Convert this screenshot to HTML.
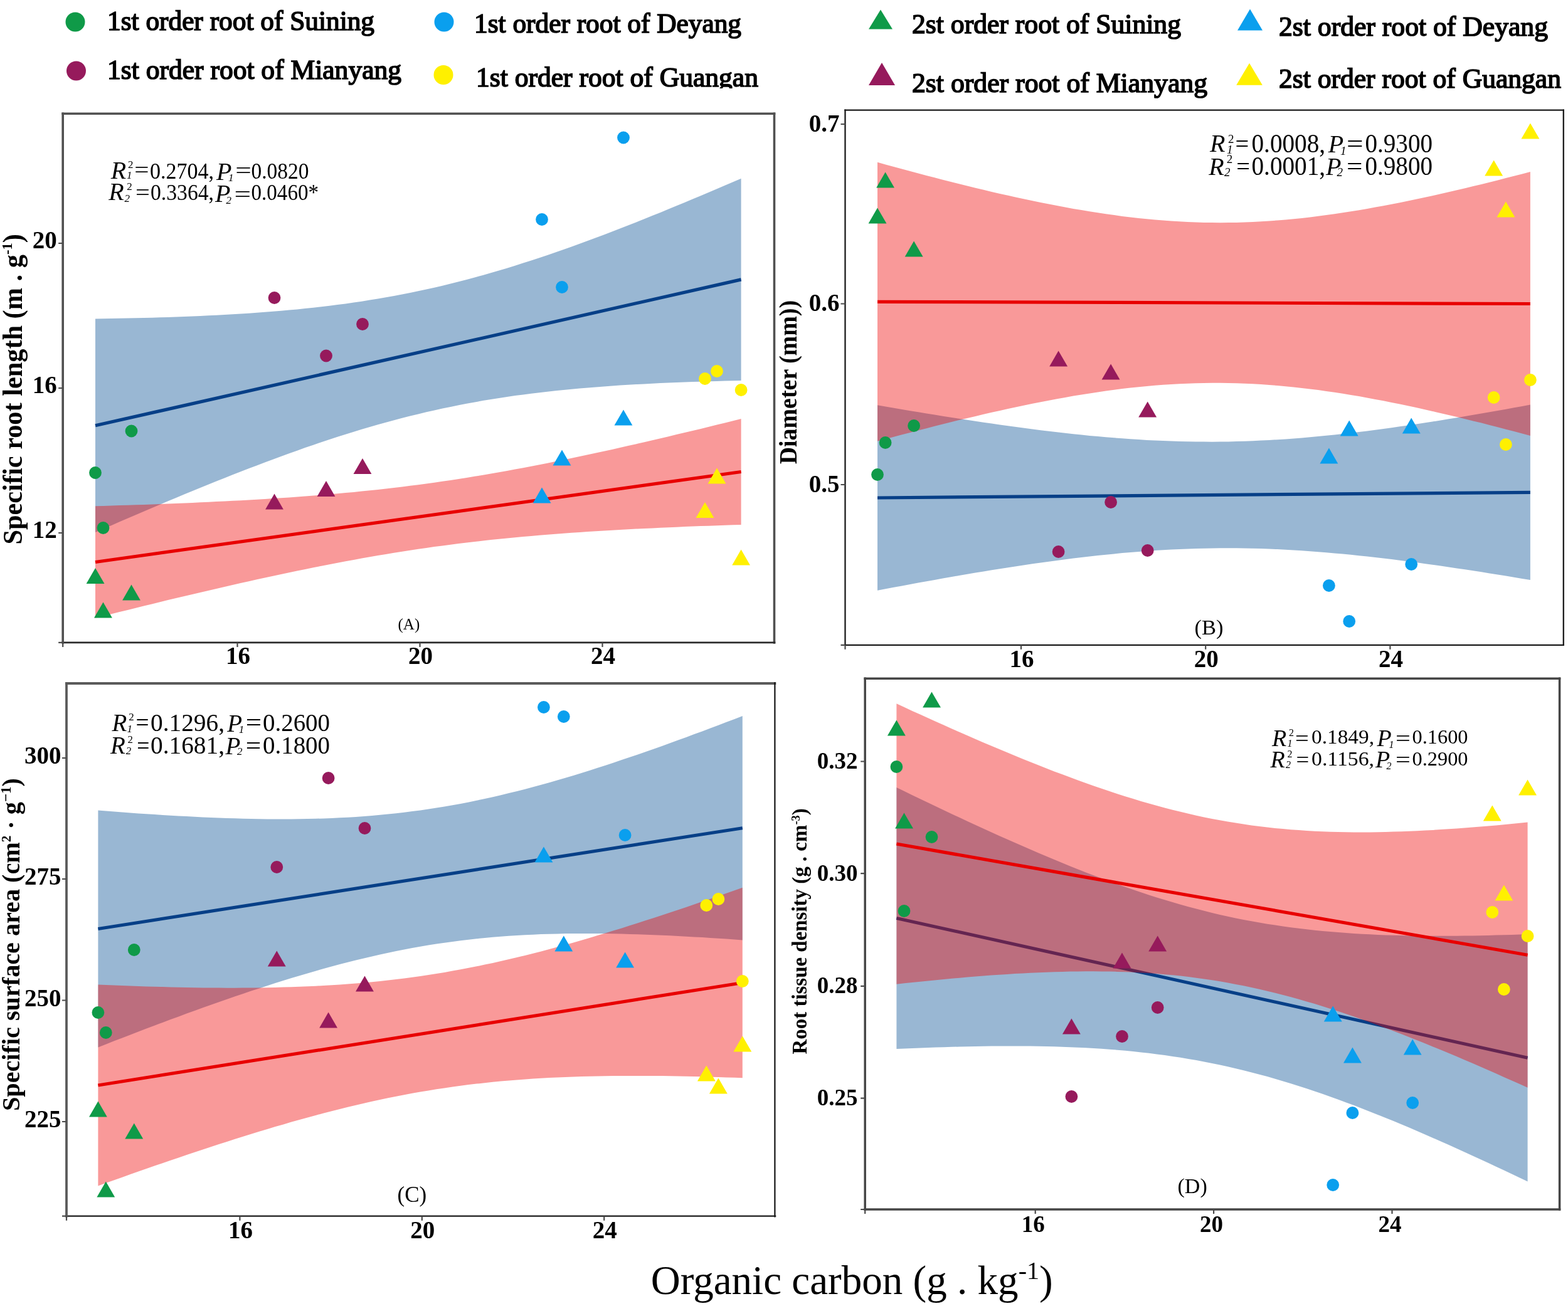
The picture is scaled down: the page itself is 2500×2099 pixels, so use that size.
<!DOCTYPE html>
<html><head><meta charset="utf-8"><title>Organic carbon vs root traits</title>
<style>
html,body{margin:0;padding:0;background:#fff;}
body{width:2500px;height:2099px;overflow:hidden;}
svg{display:block;font-family:'Liberation Serif', 'Times New Roman', serif;}
text{fill:#000;}
</style></head><body>
<svg width="2500" height="2099" viewBox="0 0 2500 2099">
<rect width="2500" height="2099" fill="#fff"/>
<defs><clipPath id="clipG"><rect x="700" y="90" width="560" height="51"/></clipPath></defs>
<circle cx="120.0" cy="35.0" r="15.5" fill="#0f9a48"/>
<text x="171.0" y="47.5" font-size="45" font-weight="normal" font-style="normal" text-anchor="start" textLength="426.0" lengthAdjust="spacingAndGlyphs" stroke="#000" stroke-width="1.7">1st order root of Suining</text>
<circle cx="708.0" cy="35.0" r="15.5" fill="#0a9fee"/>
<text x="756.0" y="52.0" font-size="45" font-weight="normal" font-style="normal" text-anchor="start" textLength="426.0" lengthAdjust="spacingAndGlyphs" stroke="#000" stroke-width="1.7">1st order root of Deyang</text>
<polygon points="1404.0,15.5 1385.0,46.5 1423.0,46.5" fill="#0f9a48"/>
<text x="1454.0" y="53.0" font-size="45" font-weight="normal" font-style="normal" text-anchor="start" textLength="429.0" lengthAdjust="spacingAndGlyphs" stroke="#000" stroke-width="1.7">2st order root of Suining</text>
<polygon points="1993.0,14.5 1973.0,48.5 2013.0,48.5" fill="#0a9fee"/>
<text x="2039.0" y="57.0" font-size="45" font-weight="normal" font-style="normal" text-anchor="start" textLength="429.0" lengthAdjust="spacingAndGlyphs" stroke="#000" stroke-width="1.7">2st order root of Deyang</text>
<circle cx="121.5" cy="113.0" r="15.5" fill="#961a5c"/>
<text x="171.0" y="126.0" font-size="45" font-weight="normal" font-style="normal" text-anchor="start" textLength="469.0" lengthAdjust="spacingAndGlyphs" stroke="#000" stroke-width="1.7">1st order root of Mianyang</text>
<circle cx="707.0" cy="119.5" r="15.5" fill="#fff000"/>
<text x="759.0" y="138.0" font-size="45" font-weight="normal" font-style="normal" text-anchor="start" textLength="450.0" lengthAdjust="spacingAndGlyphs" stroke="#000" stroke-width="1.7" clip-path="url(#clipG)">1st order root of Guangan</text>
<polygon points="1406.0,100.0 1385.0,136.0 1427.0,136.0" fill="#961a5c"/>
<text x="1454.0" y="147.0" font-size="45" font-weight="normal" font-style="normal" text-anchor="start" textLength="471.0" lengthAdjust="spacingAndGlyphs" stroke="#000" stroke-width="1.7">2st order root of Mianyang</text>
<polygon points="1992.0,100.8 1971.2,135.8 2012.8,135.8" fill="#fff000"/>
<text x="2039.0" y="140.0" font-size="45" font-weight="normal" font-style="normal" text-anchor="start" textLength="450.0" lengthAdjust="spacingAndGlyphs" stroke="#000" stroke-width="1.7">2st order root of Guangan</text>
<path d="M152.0,508.5 L164.9,508.3 L177.8,508.1 L190.6,507.8 L203.5,507.6 L216.4,507.3 L229.2,507.0 L242.1,506.7 L255.0,506.3 L267.9,505.9 L280.7,505.4 L293.6,505.0 L306.5,504.5 L319.3,503.9 L332.2,503.3 L345.1,502.7 L357.9,502.0 L370.8,501.3 L383.7,500.5 L396.5,499.7 L409.4,498.8 L422.3,497.8 L435.2,496.8 L448.0,495.7 L460.9,494.6 L473.8,493.4 L486.6,492.1 L499.5,490.7 L512.4,489.3 L525.2,487.7 L538.1,486.1 L551.0,484.4 L563.9,482.6 L576.7,480.7 L589.6,478.6 L602.5,476.5 L615.3,474.3 L628.2,472.0 L641.1,469.6 L653.9,467.0 L666.8,464.3 L679.7,461.6 L692.5,458.7 L705.4,455.7 L718.3,452.6 L731.2,449.3 L744.0,446.0 L756.9,442.5 L769.8,439.0 L782.6,435.3 L795.5,431.5 L808.4,427.7 L821.2,423.7 L834.1,419.6 L847.0,415.5 L859.9,411.2 L872.7,406.9 L885.6,402.4 L898.5,397.9 L911.3,393.4 L924.2,388.7 L937.1,384.0 L949.9,379.2 L962.8,374.4 L975.7,369.5 L988.5,364.5 L1001.4,359.5 L1014.3,354.4 L1027.2,349.3 L1040.0,344.1 L1052.9,338.9 L1065.8,333.6 L1078.6,328.3 L1091.5,323.0 L1104.4,317.6 L1117.2,312.2 L1130.1,306.8 L1143.0,301.3 L1155.8,295.8 L1168.7,290.3 L1181.6,284.7 L1181.6,607.1 L1168.7,607.3 L1155.8,607.6 L1143.0,607.9 L1130.1,608.3 L1117.2,608.7 L1104.4,609.1 L1091.5,609.5 L1078.6,610.0 L1065.8,610.6 L1052.9,611.1 L1040.0,611.7 L1027.2,612.4 L1014.3,613.1 L1001.4,613.8 L988.5,614.6 L975.7,615.5 L962.8,616.4 L949.9,617.4 L937.1,618.4 L924.2,619.5 L911.3,620.7 L898.5,621.9 L885.6,623.3 L872.7,624.7 L859.9,626.2 L847.0,627.7 L834.1,629.4 L821.2,631.1 L808.4,633.0 L795.5,634.9 L782.6,637.0 L769.8,639.1 L756.9,641.4 L744.0,643.8 L731.2,646.3 L718.3,648.9 L705.4,651.6 L692.5,654.4 L679.7,657.3 L666.8,660.4 L653.9,663.5 L641.1,666.8 L628.2,670.2 L615.3,673.7 L602.5,677.3 L589.6,681.0 L576.7,684.8 L563.9,688.7 L551.0,692.7 L538.1,696.8 L525.2,701.0 L512.4,705.3 L499.5,709.7 L486.6,714.1 L473.8,718.7 L460.9,723.3 L448.0,728.0 L435.2,732.7 L422.3,737.5 L409.4,742.4 L396.5,747.3 L383.7,752.3 L370.8,757.3 L357.9,762.4 L345.1,767.6 L332.2,772.8 L319.3,778.0 L306.5,783.3 L293.6,788.6 L280.7,793.9 L267.9,799.3 L255.0,804.7 L242.1,810.2 L229.2,815.7 L216.4,821.2 L203.5,826.7 L190.6,832.3 L177.8,837.9 L164.9,843.5 L152.0,849.1 Z" fill="#004b92" fill-opacity="0.4"/>
<line x1="152.0" y1="678.8" x2="1181.6" y2="445.9" stroke="#073f87" stroke-width="5.2"/>
<path d="M152.0,807.3 L164.9,806.9 L177.8,806.5 L190.6,806.1 L203.5,805.7 L216.4,805.3 L229.2,804.9 L242.1,804.4 L255.0,803.9 L267.9,803.5 L280.7,803.0 L293.6,802.4 L306.5,801.9 L319.3,801.3 L332.2,800.7 L345.1,800.1 L357.9,799.5 L370.8,798.8 L383.7,798.2 L396.5,797.4 L409.4,796.7 L422.3,795.9 L435.2,795.1 L448.0,794.3 L460.9,793.4 L473.8,792.5 L486.6,791.5 L499.5,790.6 L512.4,789.5 L525.2,788.4 L538.1,787.3 L551.0,786.1 L563.9,784.9 L576.7,783.6 L589.6,782.3 L602.5,780.9 L615.3,779.5 L628.2,778.0 L641.1,776.4 L653.9,774.8 L666.8,773.2 L679.7,771.4 L692.5,769.7 L705.4,767.8 L718.3,765.9 L731.2,763.9 L744.0,761.9 L756.9,759.8 L769.8,757.7 L782.6,755.5 L795.5,753.2 L808.4,750.9 L821.2,748.6 L834.1,746.2 L847.0,743.7 L859.9,741.2 L872.7,738.7 L885.6,736.1 L898.5,733.4 L911.3,730.8 L924.2,728.1 L937.1,725.3 L949.9,722.5 L962.8,719.7 L975.7,716.9 L988.5,714.0 L1001.4,711.1 L1014.3,708.2 L1027.2,705.2 L1040.0,702.2 L1052.9,699.2 L1065.8,696.2 L1078.6,693.1 L1091.5,690.1 L1104.4,687.0 L1117.2,683.9 L1130.1,680.7 L1143.0,677.6 L1155.8,674.4 L1168.7,671.3 L1181.6,668.1 L1181.6,836.9 L1168.7,837.3 L1155.8,837.8 L1143.0,838.2 L1130.1,838.7 L1117.2,839.1 L1104.4,839.6 L1091.5,840.1 L1078.6,840.7 L1065.8,841.2 L1052.9,841.8 L1040.0,842.4 L1027.2,843.0 L1014.3,843.6 L1001.4,844.3 L988.5,845.0 L975.7,845.7 L962.8,846.5 L949.9,847.3 L937.1,848.1 L924.2,848.9 L911.3,849.8 L898.5,850.8 L885.6,851.7 L872.7,852.7 L859.9,853.8 L847.0,854.9 L834.1,856.0 L821.2,857.2 L808.4,858.5 L795.5,859.8 L782.6,861.1 L769.8,862.5 L756.9,864.0 L744.0,865.5 L731.2,867.1 L718.3,868.7 L705.4,870.4 L692.5,872.1 L679.7,874.0 L666.8,875.8 L653.9,877.8 L641.1,879.8 L628.2,881.8 L615.3,883.9 L602.5,886.1 L589.6,888.3 L576.7,890.6 L563.9,892.9 L551.0,895.3 L538.1,897.7 L525.2,900.2 L512.4,902.7 L499.5,905.2 L486.6,907.9 L473.8,910.5 L460.9,913.2 L448.0,915.9 L435.2,918.7 L422.3,921.5 L409.4,924.3 L396.5,927.2 L383.7,930.0 L370.8,933.0 L357.9,935.9 L345.1,938.9 L332.2,941.9 L319.3,944.9 L306.5,947.9 L293.6,951.0 L280.7,954.0 L267.9,957.1 L255.0,960.3 L242.1,963.4 L229.2,966.5 L216.4,969.7 L203.5,972.9 L190.6,976.1 L177.8,979.3 L164.9,982.5 L152.0,985.7 Z" fill="#f00000" fill-opacity="0.4"/>
<line x1="152.0" y1="896.5" x2="1181.6" y2="752.5" stroke="#e80000" stroke-width="5.2"/>
<polygon points="152.0,906.1 137.6,931.1 166.5,931.1" fill="#0f9a48"/>
<polygon points="164.5,960.6 150.0,985.6 178.9,985.6" fill="#0f9a48"/>
<polygon points="209.5,932.5 195.1,957.5 223.9,957.5" fill="#0f9a48"/>
<polygon points="437.5,787.5 423.1,812.5 451.9,812.5" fill="#961a5c"/>
<polygon points="520.0,767.0 505.6,792.0 534.4,792.0" fill="#961a5c"/>
<polygon points="578.0,731.0 563.5,756.0 592.4,756.0" fill="#961a5c"/>
<polygon points="864.0,777.5 849.6,802.5 878.5,802.5" fill="#0a9fee"/>
<polygon points="896.0,717.5 881.5,742.5 910.4,742.5" fill="#0a9fee"/>
<polygon points="994.0,653.5 979.5,678.5 1008.4,678.5" fill="#0a9fee"/>
<polygon points="1124.0,801.0 1109.5,826.0 1138.4,826.0" fill="#fff000"/>
<polygon points="1143.0,746.5 1128.6,771.5 1157.5,771.5" fill="#fff000"/>
<polygon points="1181.6,876.5 1167.2,901.5 1196.0,901.5" fill="#fff000"/>
<circle cx="152.0" cy="754.0" r="9.9" fill="#0f9a48"/>
<circle cx="164.5" cy="842.0" r="9.9" fill="#0f9a48"/>
<circle cx="209.5" cy="687.5" r="9.9" fill="#0f9a48"/>
<circle cx="437.5" cy="475.0" r="9.9" fill="#961a5c"/>
<circle cx="520.0" cy="567.5" r="9.9" fill="#961a5c"/>
<circle cx="578.0" cy="517.0" r="9.9" fill="#961a5c"/>
<circle cx="864.0" cy="350.0" r="9.9" fill="#0a9fee"/>
<circle cx="896.0" cy="458.0" r="9.9" fill="#0a9fee"/>
<circle cx="994.0" cy="219.5" r="9.9" fill="#0a9fee"/>
<circle cx="1124.0" cy="604.0" r="9.9" fill="#fff000"/>
<circle cx="1143.0" cy="592.0" r="9.9" fill="#fff000"/>
<circle cx="1181.6" cy="622.0" r="9.9" fill="#fff000"/>
<line x1="98.4" y1="181.2" x2="1236.3" y2="181.2" stroke="#505050" stroke-width="3.6"/>
<line x1="1234.5" y1="179.4" x2="1234.5" y2="1026.7" stroke="#505050" stroke-width="3.6"/>
<line x1="98.4" y1="1024.9" x2="1236.3" y2="1024.9" stroke="#2a2a2a" stroke-width="2.6"/>
<line x1="100.2" y1="179.4" x2="100.2" y2="1026.7" stroke="#505050" stroke-width="3.6"/>
<text x="90.7" y="395.5" font-size="39" font-weight="bold" font-style="normal" text-anchor="end">20</text>
<text x="90.7" y="626.5" font-size="39" font-weight="bold" font-style="normal" text-anchor="end">16</text>
<text x="90.7" y="857.5" font-size="39" font-weight="bold" font-style="normal" text-anchor="end">12</text>
<text x="379.5" y="1059.4" font-size="39" font-weight="bold" font-style="normal" text-anchor="middle">16</text>
<text x="670.5" y="1059.4" font-size="39" font-weight="bold" font-style="normal" text-anchor="middle">20</text>
<text x="961.5" y="1059.4" font-size="39" font-weight="bold" font-style="normal" text-anchor="middle">24</text>
<path d="M93.2,388 H100.2 M93.2,619 H100.2 M93.2,850 H100.2 M93.2,1024.9 H100.2 M378.5,1024.9 V1031.9 M669.5,1024.9 V1031.9 M960.5,1024.9 V1031.9 M100.2,1024.9 V1031.9" stroke="#4a4a4a" stroke-width="2.2" fill="none"/>
<text transform="translate(34.5,868.5) rotate(-90)" x="0" y="0" font-size="45" font-weight="bold" textLength="495.3" lengthAdjust="spacingAndGlyphs">Specific root length (m . g<tspan font-size="24" dy="-15.5">-1</tspan><tspan dy="15.5">)</tspan></text>
<text x="634.5" y="1003.5" font-size="25" font-weight="normal" font-style="normal" text-anchor="start">(A)</text>
<text x="176.8" y="284.5" font-size="40" font-weight="normal" font-style="italic" text-anchor="start">R</text>
<text x="204.0" y="267.7" font-size="17" font-weight="normal" font-style="normal" text-anchor="start">2</text>
<text x="202.0" y="285.4" font-size="17" font-weight="normal" font-style="italic" text-anchor="start">1</text>
<text x="214.2" y="283.1" font-size="36" font-weight="normal" font-style="normal" text-anchor="start" textLength="23.3" lengthAdjust="spacingAndGlyphs">=</text>
<text x="239.0" y="284.5" font-size="35" font-weight="normal" font-style="normal" text-anchor="start" textLength="102.0" lengthAdjust="spacingAndGlyphs">0.2704,</text>
<text x="345.0" y="286.5" font-size="40" font-weight="normal" font-style="italic" text-anchor="start">P</text>
<text x="364.0" y="289.0" font-size="17" font-weight="normal" font-style="italic" text-anchor="start">1</text>
<text x="375.3" y="284.1" font-size="36" font-weight="normal" font-style="normal" text-anchor="start" textLength="25.6" lengthAdjust="spacingAndGlyphs">=</text>
<text x="400.5" y="284.5" font-size="35" font-weight="normal" font-style="normal" text-anchor="start" textLength="92.0" lengthAdjust="spacingAndGlyphs">0.0820</text>
<text x="173.2" y="319.4" font-size="40" font-weight="normal" font-style="italic" text-anchor="start">R</text>
<text x="202.2" y="302.6" font-size="17" font-weight="normal" font-style="normal" text-anchor="start">2</text>
<text x="198.5" y="321.7" font-size="17" font-weight="normal" font-style="italic" text-anchor="start">2</text>
<text x="216.0" y="318.8" font-size="36" font-weight="normal" font-style="normal" text-anchor="start" textLength="22.9" lengthAdjust="spacingAndGlyphs">=</text>
<text x="240.0" y="319.4" font-size="35" font-weight="normal" font-style="normal" text-anchor="start" textLength="101.0" lengthAdjust="spacingAndGlyphs">0.3364,</text>
<text x="343.0" y="321.7" font-size="40" font-weight="normal" font-style="italic" text-anchor="start">P</text>
<text x="360.5" y="325.0" font-size="17" font-weight="normal" font-style="italic" text-anchor="start">2</text>
<text x="373.4" y="321.9" font-size="36" font-weight="normal" font-style="normal" text-anchor="start" textLength="26.6" lengthAdjust="spacingAndGlyphs">=</text>
<text x="400.5" y="319.4" font-size="35" font-weight="normal" font-style="normal" text-anchor="start" textLength="107.5" lengthAdjust="spacingAndGlyphs">0.0460*</text>
<path d="M1399.0,646.3 L1412.0,648.5 L1425.1,650.8 L1438.1,653.0 L1451.1,655.2 L1464.1,657.3 L1477.1,659.5 L1490.1,661.6 L1503.1,663.7 L1516.1,665.8 L1529.1,667.8 L1542.2,669.8 L1555.2,671.8 L1568.2,673.7 L1581.2,675.6 L1594.2,677.5 L1607.2,679.3 L1620.2,681.1 L1633.2,682.8 L1646.2,684.5 L1659.3,686.2 L1672.3,687.8 L1685.3,689.3 L1698.3,690.8 L1711.3,692.2 L1724.3,693.6 L1737.3,694.9 L1750.3,696.1 L1763.3,697.3 L1776.4,698.3 L1789.4,699.3 L1802.4,700.3 L1815.4,701.1 L1828.4,701.9 L1841.4,702.6 L1854.4,703.1 L1867.4,703.6 L1880.4,704.0 L1893.5,704.3 L1906.5,704.5 L1919.5,704.6 L1932.5,704.7 L1945.5,704.6 L1958.5,704.4 L1971.5,704.1 L1984.5,703.7 L1997.5,703.2 L2010.6,702.6 L2023.6,702.0 L2036.6,701.2 L2049.6,700.4 L2062.6,699.4 L2075.6,698.4 L2088.6,697.3 L2101.6,696.1 L2114.6,694.8 L2127.7,693.5 L2140.7,692.0 L2153.7,690.6 L2166.7,689.0 L2179.7,687.4 L2192.7,685.7 L2205.7,684.0 L2218.7,682.2 L2231.7,680.3 L2244.8,678.5 L2257.8,676.5 L2270.8,674.5 L2283.8,672.5 L2296.8,670.4 L2309.8,668.3 L2322.8,666.2 L2335.8,664.0 L2348.8,661.8 L2361.9,659.6 L2374.9,657.3 L2387.9,655.0 L2400.9,652.7 L2413.9,650.3 L2426.9,647.9 L2439.9,645.5 L2439.9,925.1 L2426.9,922.9 L2413.9,920.7 L2400.9,918.6 L2387.9,916.5 L2374.9,914.4 L2361.9,912.3 L2348.8,910.3 L2335.8,908.3 L2322.8,906.4 L2309.8,904.4 L2296.8,902.6 L2283.8,900.7 L2270.8,898.9 L2257.8,897.1 L2244.8,895.4 L2231.7,893.7 L2218.7,892.1 L2205.7,890.5 L2192.7,889.0 L2179.7,887.6 L2166.7,886.2 L2153.7,884.8 L2140.7,883.6 L2127.7,882.4 L2114.6,881.2 L2101.6,880.2 L2088.6,879.2 L2075.6,878.3 L2062.6,877.5 L2049.6,876.8 L2036.6,876.1 L2023.6,875.6 L2010.6,875.1 L1997.5,874.8 L1984.5,874.5 L1971.5,874.3 L1958.5,874.3 L1945.5,874.3 L1932.5,874.4 L1919.5,874.7 L1906.5,875.0 L1893.5,875.4 L1880.4,875.9 L1867.4,876.5 L1854.4,877.3 L1841.4,878.1 L1828.4,878.9 L1815.4,879.9 L1802.4,881.0 L1789.4,882.1 L1776.4,883.4 L1763.3,884.7 L1750.3,886.0 L1737.3,887.5 L1724.3,889.0 L1711.3,890.6 L1698.3,892.2 L1685.3,893.9 L1672.3,895.7 L1659.3,897.5 L1646.2,899.3 L1633.2,901.2 L1620.2,903.2 L1607.2,905.2 L1594.2,907.2 L1581.2,909.3 L1568.2,911.4 L1555.2,913.6 L1542.2,915.8 L1529.1,918.0 L1516.1,920.3 L1503.1,922.6 L1490.1,924.9 L1477.1,927.2 L1464.1,929.6 L1451.1,932.0 L1438.1,934.4 L1425.1,936.8 L1412.0,939.3 L1399.0,941.7 Z" fill="#004b92" fill-opacity="0.4"/>
<line x1="1399.0" y1="794.0" x2="2439.9" y2="785.3" stroke="#073f87" stroke-width="5.2"/>
<path d="M1399.0,258.8 L1412.0,262.4 L1425.1,266.0 L1438.1,269.5 L1451.1,273.0 L1464.1,276.5 L1477.1,279.9 L1490.1,283.3 L1503.1,286.7 L1516.1,290.0 L1529.1,293.3 L1542.2,296.5 L1555.2,299.7 L1568.2,302.8 L1581.2,305.9 L1594.2,308.9 L1607.2,311.8 L1620.2,314.7 L1633.2,317.6 L1646.2,320.3 L1659.3,323.0 L1672.3,325.6 L1685.3,328.1 L1698.3,330.5 L1711.3,332.9 L1724.3,335.1 L1737.3,337.3 L1750.3,339.3 L1763.3,341.3 L1776.4,343.1 L1789.4,344.9 L1802.4,346.5 L1815.4,347.9 L1828.4,349.3 L1841.4,350.5 L1854.4,351.6 L1867.4,352.5 L1880.4,353.3 L1893.5,354.0 L1906.5,354.5 L1919.5,354.9 L1932.5,355.1 L1945.5,355.2 L1958.5,355.1 L1971.5,354.9 L1984.5,354.5 L1997.5,354.0 L2010.6,353.3 L2023.6,352.5 L2036.6,351.5 L2049.6,350.4 L2062.6,349.2 L2075.6,347.9 L2088.6,346.4 L2101.6,344.8 L2114.6,343.1 L2127.7,341.3 L2140.7,339.3 L2153.7,337.3 L2166.7,335.2 L2179.7,332.9 L2192.7,330.6 L2205.7,328.2 L2218.7,325.7 L2231.7,323.2 L2244.8,320.5 L2257.8,317.8 L2270.8,315.0 L2283.8,312.2 L2296.8,309.3 L2309.8,306.3 L2322.8,303.3 L2335.8,300.2 L2348.8,297.1 L2361.9,293.9 L2374.9,290.7 L2387.9,287.4 L2400.9,284.1 L2413.9,280.8 L2426.9,277.4 L2439.9,274.0 L2439.9,695.0 L2426.9,691.5 L2413.9,688.1 L2400.9,684.7 L2387.9,681.3 L2374.9,677.9 L2361.9,674.6 L2348.8,671.4 L2335.8,668.2 L2322.8,665.0 L2309.8,661.9 L2296.8,658.9 L2283.8,655.9 L2270.8,652.9 L2257.8,650.1 L2244.8,647.3 L2231.7,644.6 L2218.7,641.9 L2205.7,639.3 L2192.7,636.9 L2179.7,634.5 L2166.7,632.1 L2153.7,629.9 L2140.7,627.8 L2127.7,625.8 L2114.6,623.9 L2101.6,622.1 L2088.6,620.4 L2075.6,618.9 L2062.6,617.5 L2049.6,616.2 L2036.6,615.0 L2023.6,614.0 L2010.6,613.1 L1997.5,612.3 L1984.5,611.7 L1971.5,611.3 L1958.5,611.0 L1945.5,610.8 L1932.5,610.8 L1919.5,610.9 L1906.5,611.2 L1893.5,611.7 L1880.4,612.2 L1867.4,613.0 L1854.4,613.8 L1841.4,614.8 L1828.4,616.0 L1815.4,617.2 L1802.4,618.6 L1789.4,620.1 L1776.4,621.8 L1763.3,623.5 L1750.3,625.4 L1737.3,627.4 L1724.3,629.5 L1711.3,631.6 L1698.3,633.9 L1685.3,636.3 L1672.3,638.7 L1659.3,641.2 L1646.2,643.8 L1633.2,646.5 L1620.2,649.2 L1607.2,652.0 L1594.2,654.9 L1581.2,657.8 L1568.2,660.8 L1555.2,663.9 L1542.2,667.0 L1529.1,670.1 L1516.1,673.3 L1503.1,676.6 L1490.1,679.8 L1477.1,683.2 L1464.1,686.5 L1451.1,689.9 L1438.1,693.3 L1425.1,696.8 L1412.0,700.3 L1399.0,703.8 Z" fill="#f00000" fill-opacity="0.4"/>
<line x1="1399.0" y1="481.3" x2="2439.9" y2="484.5" stroke="#e80000" stroke-width="5.2"/>
<polygon points="1399.0,331.5 1384.6,356.5 1413.5,356.5" fill="#0f9a48"/>
<polygon points="1411.6,274.5 1397.2,299.5 1426.0,299.5" fill="#0f9a48"/>
<polygon points="1457.1,384.5 1442.7,409.5 1471.6,409.5" fill="#0f9a48"/>
<polygon points="1687.6,559.5 1673.2,584.5 1702.1,584.5" fill="#961a5c"/>
<polygon points="1771.1,580.5 1756.6,605.5 1785.5,605.5" fill="#961a5c"/>
<polygon points="1829.7,640.5 1815.2,665.5 1844.1,665.5" fill="#961a5c"/>
<polygon points="2118.9,714.5 2104.4,739.5 2133.3,739.5" fill="#0a9fee"/>
<polygon points="2151.2,670.5 2136.7,695.5 2165.6,695.5" fill="#0a9fee"/>
<polygon points="2250.2,666.5 2235.8,691.5 2264.7,691.5" fill="#0a9fee"/>
<polygon points="2381.7,255.5 2367.2,280.5 2396.1,280.5" fill="#fff000"/>
<polygon points="2400.9,321.5 2386.5,346.5 2415.4,346.5" fill="#fff000"/>
<polygon points="2439.9,196.5 2425.5,221.5 2454.4,221.5" fill="#fff000"/>
<circle cx="1399.0" cy="757.0" r="9.9" fill="#0f9a48"/>
<circle cx="1411.6" cy="706.0" r="9.9" fill="#0f9a48"/>
<circle cx="1457.1" cy="679.0" r="9.9" fill="#0f9a48"/>
<circle cx="1687.6" cy="880.0" r="9.9" fill="#961a5c"/>
<circle cx="1771.1" cy="801.0" r="9.9" fill="#961a5c"/>
<circle cx="1829.7" cy="878.0" r="9.9" fill="#961a5c"/>
<circle cx="2118.9" cy="934.0" r="9.9" fill="#0a9fee"/>
<circle cx="2151.2" cy="991.0" r="9.9" fill="#0a9fee"/>
<circle cx="2250.2" cy="900.0" r="9.9" fill="#0a9fee"/>
<circle cx="2381.7" cy="634.0" r="9.9" fill="#fff000"/>
<circle cx="2400.9" cy="709.0" r="9.9" fill="#fff000"/>
<circle cx="2439.9" cy="606.0" r="9.9" fill="#fff000"/>
<line x1="1346.3" y1="175.6" x2="2494.0" y2="175.6" stroke="#1a1a1a" stroke-width="2.3"/>
<line x1="2492.8" y1="174.4" x2="2492.8" y2="1030.0" stroke="#1a1a1a" stroke-width="2.3"/>
<line x1="1346.3" y1="1028.8" x2="2494.0" y2="1028.8" stroke="#1a1a1a" stroke-width="2.3"/>
<line x1="1347.5" y1="174.4" x2="1347.5" y2="1030.0" stroke="#1a1a1a" stroke-width="2.3"/>
<text x="1338.5" y="209.7" font-size="39" font-weight="bold" font-style="normal" text-anchor="end">0.7</text>
<text x="1338.5" y="496.2" font-size="39" font-weight="bold" font-style="normal" text-anchor="end">0.6</text>
<text x="1338.5" y="784.7" font-size="39" font-weight="bold" font-style="normal" text-anchor="end">0.5</text>
<text x="1629.0" y="1063.8" font-size="39" font-weight="bold" font-style="normal" text-anchor="middle">16</text>
<text x="1923.2" y="1063.8" font-size="39" font-weight="bold" font-style="normal" text-anchor="middle">20</text>
<text x="2217.4" y="1063.8" font-size="39" font-weight="bold" font-style="normal" text-anchor="middle">24</text>
<path d="M1340.5,198 H1347.5 M1340.5,484.5 H1347.5 M1340.5,773 H1347.5 M1340.5,1028.8 H1347.5 M1628.0,1028.8 V1035.8 M1922.2,1028.8 V1035.8 M2216.4,1028.8 V1035.8 M1347.5,1028.8 V1035.8" stroke="#4a4a4a" stroke-width="2.2" fill="none"/>
<text transform="translate(1270,740.3) rotate(-90)" x="0" y="0" font-size="40" font-weight="bold" textLength="261.3" lengthAdjust="spacingAndGlyphs">Diameter (mm))</text>
<text x="1904.5" y="1012.3" font-size="34.5" font-weight="normal" font-style="normal" text-anchor="start">(B)</text>
<text x="1929.1" y="242.4" font-size="40" font-weight="normal" font-style="italic" text-anchor="start">R</text>
<text x="1958.0" y="227.5" font-size="19" font-weight="normal" font-style="normal" text-anchor="start">2</text>
<text x="1956.0" y="244.5" font-size="19" font-weight="normal" font-style="italic" text-anchor="start">1</text>
<text x="1969.4" y="242.9" font-size="40" font-weight="normal" font-style="normal" text-anchor="start" textLength="21.7" lengthAdjust="spacingAndGlyphs">=</text>
<text x="1995.5" y="242.5" font-size="42" font-weight="normal" font-style="normal" text-anchor="start" textLength="117.5" lengthAdjust="spacingAndGlyphs">0.0008,</text>
<text x="2117.7" y="243.4" font-size="40" font-weight="normal" font-style="italic" text-anchor="start">P</text>
<text x="2137.0" y="247.0" font-size="19" font-weight="normal" font-style="italic" text-anchor="start">1</text>
<text x="2146.9" y="242.9" font-size="40" font-weight="normal" font-style="normal" text-anchor="start" textLength="26.6" lengthAdjust="spacingAndGlyphs">=</text>
<text x="2176.5" y="242.5" font-size="42" font-weight="normal" font-style="normal" text-anchor="start" textLength="107.5" lengthAdjust="spacingAndGlyphs">0.9300</text>
<text x="1927.3" y="278.5" font-size="40" font-weight="normal" font-style="italic" text-anchor="start">R</text>
<text x="1955.7" y="259.9" font-size="19" font-weight="normal" font-style="normal" text-anchor="start">2</text>
<text x="1952.0" y="280.8" font-size="19" font-weight="normal" font-style="italic" text-anchor="start">2</text>
<text x="1971.2" y="278.6" font-size="40" font-weight="normal" font-style="normal" text-anchor="start" textLength="21.7" lengthAdjust="spacingAndGlyphs">=</text>
<text x="1995.5" y="278.7" font-size="42" font-weight="normal" font-style="normal" text-anchor="start" textLength="117.5" lengthAdjust="spacingAndGlyphs">0.0001,</text>
<text x="2114.0" y="278.7" font-size="40" font-weight="normal" font-style="italic" text-anchor="start">P</text>
<text x="2131.5" y="281.0" font-size="19" font-weight="normal" font-style="italic" text-anchor="start">2</text>
<text x="2147.1" y="278.6" font-size="40" font-weight="normal" font-style="normal" text-anchor="start" textLength="25.4" lengthAdjust="spacingAndGlyphs">=</text>
<text x="2176.5" y="278.7" font-size="42" font-weight="normal" font-style="normal" text-anchor="start" textLength="107.5" lengthAdjust="spacingAndGlyphs">0.9800</text>
<path d="M156.4,1292.6 L169.2,1293.6 L182.1,1294.6 L194.9,1295.6 L207.8,1296.5 L220.6,1297.4 L233.5,1298.3 L246.3,1299.1 L259.1,1299.9 L272.0,1300.7 L284.8,1301.4 L297.7,1302.1 L310.5,1302.8 L323.4,1303.4 L336.2,1304.0 L349.0,1304.5 L361.9,1304.9 L374.7,1305.3 L387.6,1305.7 L400.4,1306.0 L413.3,1306.2 L426.1,1306.4 L438.9,1306.5 L451.8,1306.5 L464.6,1306.5 L477.5,1306.3 L490.3,1306.1 L503.2,1305.8 L516.0,1305.4 L528.8,1304.9 L541.7,1304.3 L554.5,1303.7 L567.4,1302.9 L580.2,1302.0 L593.1,1301.0 L605.9,1299.8 L618.7,1298.6 L631.6,1297.2 L644.4,1295.8 L657.3,1294.1 L670.1,1292.4 L683.0,1290.6 L695.8,1288.6 L708.6,1286.5 L721.5,1284.2 L734.3,1281.9 L747.2,1279.4 L760.0,1276.8 L772.9,1274.0 L785.7,1271.2 L798.5,1268.2 L811.4,1265.1 L824.2,1261.9 L837.1,1258.7 L849.9,1255.3 L862.8,1251.8 L875.6,1248.2 L888.4,1244.5 L901.3,1240.7 L914.1,1236.9 L927.0,1232.9 L939.8,1228.9 L952.7,1224.8 L965.5,1220.7 L978.3,1216.4 L991.2,1212.1 L1004.0,1207.8 L1016.9,1203.4 L1029.7,1198.9 L1042.6,1194.4 L1055.4,1189.9 L1068.2,1185.2 L1081.1,1180.6 L1093.9,1175.9 L1106.8,1171.1 L1119.6,1166.4 L1132.5,1161.6 L1145.3,1156.7 L1158.1,1151.8 L1171.0,1146.9 L1183.8,1142.0 L1183.8,1499.4 L1171.0,1498.5 L1158.1,1497.6 L1145.3,1496.8 L1132.5,1495.9 L1119.6,1495.1 L1106.8,1494.4 L1093.9,1493.7 L1081.1,1493.0 L1068.2,1492.3 L1055.4,1491.7 L1042.6,1491.2 L1029.7,1490.7 L1016.9,1490.3 L1004.0,1489.9 L991.2,1489.6 L978.3,1489.3 L965.5,1489.1 L952.7,1488.9 L939.8,1488.9 L927.0,1488.9 L914.1,1489.0 L901.3,1489.1 L888.4,1489.4 L875.6,1489.7 L862.8,1490.1 L849.9,1490.7 L837.1,1491.3 L824.2,1492.0 L811.4,1492.8 L798.5,1493.8 L785.7,1494.8 L772.9,1496.0 L760.0,1497.3 L747.2,1498.7 L734.3,1500.2 L721.5,1501.9 L708.6,1503.7 L695.8,1505.6 L683.0,1507.6 L670.1,1509.8 L657.3,1512.1 L644.4,1514.5 L631.6,1517.0 L618.7,1519.7 L605.9,1522.5 L593.1,1525.4 L580.2,1528.4 L567.4,1531.5 L554.5,1534.7 L541.7,1538.1 L528.8,1541.5 L516.0,1545.0 L503.2,1548.7 L490.3,1552.4 L477.5,1556.2 L464.6,1560.1 L451.8,1564.0 L438.9,1568.1 L426.1,1572.2 L413.3,1576.4 L400.4,1580.6 L387.6,1584.9 L374.7,1589.3 L361.9,1593.7 L349.0,1598.2 L336.2,1602.8 L323.4,1607.3 L310.5,1612.0 L297.7,1616.6 L284.8,1621.4 L272.0,1626.1 L259.1,1630.9 L246.3,1635.7 L233.5,1640.6 L220.6,1645.5 L207.8,1650.4 L194.9,1655.4 L182.1,1660.3 L169.2,1665.4 L156.4,1670.4 Z" fill="#004b92" fill-opacity="0.4"/>
<line x1="156.4" y1="1481.5" x2="1183.8" y2="1320.7" stroke="#073f87" stroke-width="5.2"/>
<path d="M156.4,1570.6 L169.2,1571.1 L182.1,1571.6 L194.9,1572.1 L207.8,1572.5 L220.6,1573.0 L233.5,1573.4 L246.3,1573.8 L259.1,1574.1 L272.0,1574.4 L284.8,1574.7 L297.7,1575.0 L310.5,1575.2 L323.4,1575.4 L336.2,1575.5 L349.0,1575.6 L361.9,1575.7 L374.7,1575.7 L387.6,1575.6 L400.4,1575.5 L413.3,1575.4 L426.1,1575.2 L438.9,1575.0 L451.8,1574.6 L464.6,1574.3 L477.5,1573.8 L490.3,1573.3 L503.2,1572.7 L516.0,1572.0 L528.8,1571.3 L541.7,1570.4 L554.5,1569.5 L567.4,1568.5 L580.2,1567.4 L593.1,1566.2 L605.9,1564.9 L618.7,1563.5 L631.6,1562.0 L644.4,1560.5 L657.3,1558.8 L670.1,1556.9 L683.0,1555.0 L695.8,1553.0 L708.6,1550.9 L721.5,1548.6 L734.3,1546.3 L747.2,1543.8 L760.0,1541.3 L772.9,1538.6 L785.7,1535.9 L798.5,1533.0 L811.4,1530.1 L824.2,1527.0 L837.1,1523.9 L849.9,1520.7 L862.8,1517.4 L875.6,1514.0 L888.4,1510.5 L901.3,1507.0 L914.1,1503.4 L927.0,1499.7 L939.8,1495.9 L952.7,1492.1 L965.5,1488.3 L978.3,1484.3 L991.2,1480.4 L1004.0,1476.3 L1016.9,1472.2 L1029.7,1468.1 L1042.6,1464.0 L1055.4,1459.7 L1068.2,1455.5 L1081.1,1451.2 L1093.9,1446.9 L1106.8,1442.5 L1119.6,1438.1 L1132.5,1433.7 L1145.3,1429.2 L1158.1,1424.8 L1171.0,1420.2 L1183.8,1415.7 L1183.8,1719.3 L1171.0,1718.8 L1158.1,1718.4 L1145.3,1718.0 L1132.5,1717.7 L1119.6,1717.3 L1106.8,1717.0 L1093.9,1716.7 L1081.1,1716.5 L1068.2,1716.3 L1055.4,1716.1 L1042.6,1716.0 L1029.7,1715.9 L1016.9,1715.9 L1004.0,1715.9 L991.2,1716.0 L978.3,1716.1 L965.5,1716.2 L952.7,1716.4 L939.8,1716.7 L927.0,1717.1 L914.1,1717.5 L901.3,1717.9 L888.4,1718.5 L875.6,1719.1 L862.8,1719.8 L849.9,1720.6 L837.1,1721.5 L824.2,1722.4 L811.4,1723.5 L798.5,1724.6 L785.7,1725.8 L772.9,1727.2 L760.0,1728.6 L747.2,1730.1 L734.3,1731.8 L721.5,1733.5 L708.6,1735.4 L695.8,1737.3 L683.0,1739.4 L670.1,1741.6 L657.3,1743.8 L644.4,1746.2 L631.6,1748.7 L618.7,1751.3 L605.9,1754.0 L593.1,1756.8 L580.2,1759.7 L567.4,1762.7 L554.5,1765.8 L541.7,1768.9 L528.8,1772.2 L516.0,1775.5 L503.2,1778.9 L490.3,1782.4 L477.5,1786.0 L464.6,1789.6 L451.8,1793.4 L438.9,1797.1 L426.1,1801.0 L413.3,1804.8 L400.4,1808.8 L387.6,1812.8 L374.7,1816.8 L361.9,1820.9 L349.0,1825.1 L336.2,1829.3 L323.4,1833.5 L310.5,1837.8 L297.7,1842.1 L284.8,1846.4 L272.0,1850.8 L259.1,1855.2 L246.3,1859.6 L233.5,1864.1 L220.6,1868.6 L207.8,1873.1 L194.9,1877.7 L182.1,1882.2 L169.2,1886.8 L156.4,1891.4 Z" fill="#f00000" fill-opacity="0.4"/>
<line x1="156.4" y1="1731.0" x2="1183.8" y2="1567.5" stroke="#e80000" stroke-width="5.2"/>
<polygon points="156.4,1756.5 142.0,1781.5 170.8,1781.5" fill="#0f9a48"/>
<polygon points="168.8,1884.5 154.4,1909.5 183.2,1909.5" fill="#0f9a48"/>
<polygon points="213.8,1791.5 199.3,1816.5 228.2,1816.5" fill="#0f9a48"/>
<polygon points="441.3,1516.5 426.8,1541.5 455.7,1541.5" fill="#961a5c"/>
<polygon points="523.6,1614.5 509.2,1639.5 538.0,1639.5" fill="#961a5c"/>
<polygon points="581.5,1556.5 567.0,1581.5 595.9,1581.5" fill="#961a5c"/>
<polygon points="866.9,1350.5 852.5,1375.5 881.4,1375.5" fill="#0a9fee"/>
<polygon points="898.8,1492.5 884.4,1517.5 913.2,1517.5" fill="#0a9fee"/>
<polygon points="996.6,1518.5 982.2,1543.5 1011.0,1543.5" fill="#0a9fee"/>
<polygon points="1126.3,1699.5 1111.9,1724.5 1140.8,1724.5" fill="#fff000"/>
<polygon points="1145.4,1719.5 1130.9,1744.5 1159.8,1744.5" fill="#fff000"/>
<polygon points="1183.8,1652.5 1169.4,1677.5 1198.3,1677.5" fill="#fff000"/>
<circle cx="156.4" cy="1615.0" r="9.9" fill="#0f9a48"/>
<circle cx="168.8" cy="1647.0" r="9.9" fill="#0f9a48"/>
<circle cx="213.8" cy="1515.0" r="9.9" fill="#0f9a48"/>
<circle cx="441.3" cy="1383.0" r="9.9" fill="#961a5c"/>
<circle cx="523.6" cy="1241.0" r="9.9" fill="#961a5c"/>
<circle cx="581.5" cy="1321.0" r="9.9" fill="#961a5c"/>
<circle cx="866.9" cy="1128.0" r="9.9" fill="#0a9fee"/>
<circle cx="898.8" cy="1143.0" r="9.9" fill="#0a9fee"/>
<circle cx="996.6" cy="1332.0" r="9.9" fill="#0a9fee"/>
<circle cx="1126.3" cy="1444.0" r="9.9" fill="#fff000"/>
<circle cx="1145.4" cy="1434.0" r="9.9" fill="#fff000"/>
<circle cx="1183.8" cy="1565.0" r="9.9" fill="#fff000"/>
<line x1="104.1" y1="1090.0" x2="1237.3" y2="1090.0" stroke="#5a5a5a" stroke-width="3.8"/>
<line x1="1235.4" y1="1088.1" x2="1235.4" y2="1941.6" stroke="#151515" stroke-width="2.2"/>
<line x1="104.1" y1="1939.7" x2="1237.3" y2="1939.7" stroke="#1a1a1a" stroke-width="2.2"/>
<line x1="106.0" y1="1088.1" x2="106.0" y2="1941.6" stroke="#5a5a5a" stroke-width="3.8"/>
<text x="97.4" y="1218.0" font-size="39" font-weight="bold" font-style="normal" text-anchor="end">300</text>
<text x="97.4" y="1411.0" font-size="39" font-weight="bold" font-style="normal" text-anchor="end">275</text>
<text x="97.4" y="1604.5" font-size="39" font-weight="bold" font-style="normal" text-anchor="end">250</text>
<text x="97.4" y="1798.0" font-size="39" font-weight="bold" font-style="normal" text-anchor="end">225</text>
<text x="383.4" y="1974.7" font-size="39" font-weight="bold" font-style="normal" text-anchor="middle">16</text>
<text x="673.8" y="1974.7" font-size="39" font-weight="bold" font-style="normal" text-anchor="middle">20</text>
<text x="964.2" y="1974.7" font-size="39" font-weight="bold" font-style="normal" text-anchor="middle">24</text>
<path d="M99,1209 H106 M99,1402 H106 M99,1595.5 H106 M99,1789 H106 M99,1939.7 H106 M382.4,1939.7 V1946.7 M672.8,1939.7 V1946.7 M963.2,1939.7 V1946.7 M106,1939.7 V1946.7" stroke="#4a4a4a" stroke-width="2.2" fill="none"/>
<text transform="translate(30.6,1772) rotate(-90)" x="0" y="0" font-size="40" font-weight="bold" textLength="531.0" lengthAdjust="spacingAndGlyphs">Specific surface area (cm<tspan font-size="21" dy="-13.6">2</tspan><tspan dy="13.6"> · g<tspan font-size="23" dy="-13.6">−1</tspan><tspan dy="13.6">)</tspan></tspan></text>
<text x="633.5" y="1916.8" font-size="35" font-weight="normal" font-style="normal" text-anchor="start">(C)</text>
<text x="178.6" y="1165.7" font-size="39" font-weight="normal" font-style="italic" text-anchor="start">R</text>
<text x="205.2" y="1148.5" font-size="17" font-weight="normal" font-style="normal" text-anchor="start">2</text>
<text x="202.5" y="1168.4" font-size="17" font-weight="normal" font-style="italic" text-anchor="start">1</text>
<text x="216.5" y="1165.9" font-size="39" font-weight="normal" font-style="normal" text-anchor="start" textLength="21.1" lengthAdjust="spacingAndGlyphs">=</text>
<text x="240.0" y="1165.7" font-size="41" font-weight="normal" font-style="normal" text-anchor="start" textLength="118.0" lengthAdjust="spacingAndGlyphs">0.1296,</text>
<text x="362.2" y="1166.5" font-size="39" font-weight="normal" font-style="italic" text-anchor="start">P</text>
<text x="380.8" y="1169.0" font-size="17" font-weight="normal" font-style="italic" text-anchor="start">1</text>
<text x="391.8" y="1165.9" font-size="39" font-weight="normal" font-style="normal" text-anchor="start" textLength="25.4" lengthAdjust="spacingAndGlyphs">=</text>
<text x="419.0" y="1165.7" font-size="41" font-weight="normal" font-style="normal" text-anchor="start" textLength="107.0" lengthAdjust="spacingAndGlyphs">0.2600</text>
<text x="175.9" y="1201.9" font-size="39" font-weight="normal" font-style="italic" text-anchor="start">R</text>
<text x="203.4" y="1184.7" font-size="17" font-weight="normal" font-style="normal" text-anchor="start">2</text>
<text x="200.7" y="1202.8" font-size="17" font-weight="normal" font-style="italic" text-anchor="start">2</text>
<text x="218.2" y="1202.6" font-size="39" font-weight="normal" font-style="normal" text-anchor="start" textLength="20.2" lengthAdjust="spacingAndGlyphs">=</text>
<text x="240.0" y="1201.9" font-size="41" font-weight="normal" font-style="normal" text-anchor="start" textLength="118.0" lengthAdjust="spacingAndGlyphs">0.1681,</text>
<text x="359.5" y="1202.5" font-size="39" font-weight="normal" font-style="italic" text-anchor="start">P</text>
<text x="378.0" y="1204.0" font-size="17" font-weight="normal" font-style="italic" text-anchor="start">2</text>
<text x="391.8" y="1202.6" font-size="39" font-weight="normal" font-style="normal" text-anchor="start" textLength="24.5" lengthAdjust="spacingAndGlyphs">=</text>
<text x="419.0" y="1201.9" font-size="41" font-weight="normal" font-style="normal" text-anchor="start" textLength="107.0" lengthAdjust="spacingAndGlyphs">0.1800</text>
<path d="M1429.4,1256.0 L1441.9,1262.1 L1454.5,1268.2 L1467.1,1274.3 L1479.7,1280.3 L1492.3,1286.3 L1504.8,1292.3 L1517.4,1298.2 L1530.0,1304.1 L1542.6,1309.9 L1555.1,1315.8 L1567.7,1321.5 L1580.3,1327.3 L1592.9,1332.9 L1605.5,1338.6 L1618.0,1344.1 L1630.6,1349.6 L1643.2,1355.1 L1655.8,1360.5 L1668.3,1365.8 L1680.9,1371.1 L1693.5,1376.3 L1706.1,1381.4 L1718.7,1386.4 L1731.2,1391.4 L1743.8,1396.2 L1756.4,1401.0 L1769.0,1405.6 L1781.5,1410.2 L1794.1,1414.7 L1806.7,1419.0 L1819.3,1423.3 L1831.8,1427.4 L1844.4,1431.4 L1857.0,1435.3 L1869.6,1439.1 L1882.2,1442.7 L1894.7,1446.2 L1907.3,1449.6 L1919.9,1452.8 L1932.5,1455.9 L1945.0,1458.9 L1957.6,1461.7 L1970.2,1464.4 L1982.8,1466.9 L1995.4,1469.3 L2007.9,1471.5 L2020.5,1473.7 L2033.1,1475.6 L2045.7,1477.5 L2058.2,1479.2 L2070.8,1480.8 L2083.4,1482.3 L2096.0,1483.7 L2108.6,1485.0 L2121.1,1486.1 L2133.7,1487.1 L2146.3,1488.1 L2158.9,1488.9 L2171.4,1489.7 L2184.0,1490.3 L2196.6,1490.9 L2209.2,1491.4 L2221.8,1491.8 L2234.3,1492.1 L2246.9,1492.4 L2259.5,1492.6 L2272.1,1492.7 L2284.6,1492.8 L2297.2,1492.8 L2309.8,1492.8 L2322.4,1492.7 L2335.0,1492.6 L2347.5,1492.4 L2360.1,1492.2 L2372.7,1491.9 L2385.3,1491.6 L2397.8,1491.3 L2410.4,1490.9 L2423.0,1490.4 L2435.6,1490.0 L2435.6,1884.6 L2423.0,1878.6 L2410.4,1872.6 L2397.8,1866.6 L2385.3,1860.7 L2372.7,1854.8 L2360.1,1849.0 L2347.5,1843.2 L2335.0,1837.5 L2322.4,1831.7 L2309.8,1826.1 L2297.2,1820.5 L2284.6,1814.9 L2272.1,1809.4 L2259.5,1804.0 L2246.9,1798.6 L2234.3,1793.3 L2221.8,1788.1 L2209.2,1783.0 L2196.6,1777.9 L2184.0,1772.9 L2171.4,1768.0 L2158.9,1763.1 L2146.3,1758.4 L2133.7,1753.8 L2121.1,1749.3 L2108.6,1744.8 L2096.0,1740.5 L2083.4,1736.3 L2070.8,1732.2 L2058.2,1728.3 L2045.7,1724.4 L2033.1,1720.7 L2020.5,1717.1 L2007.9,1713.7 L1995.4,1710.4 L1982.8,1707.2 L1970.2,1704.2 L1957.6,1701.3 L1945.0,1698.5 L1932.5,1695.9 L1919.9,1693.4 L1907.3,1691.1 L1894.7,1688.9 L1882.2,1686.8 L1869.6,1684.9 L1857.0,1683.1 L1844.4,1681.4 L1831.8,1679.8 L1819.3,1678.4 L1806.7,1677.1 L1794.1,1675.8 L1781.5,1674.7 L1769.0,1673.7 L1756.4,1672.8 L1743.8,1672.0 L1731.2,1671.3 L1718.7,1670.7 L1706.1,1670.2 L1693.5,1669.7 L1680.9,1669.3 L1668.3,1669.0 L1655.8,1668.8 L1643.2,1668.6 L1630.6,1668.5 L1618.0,1668.4 L1605.5,1668.4 L1592.9,1668.5 L1580.3,1668.6 L1567.7,1668.7 L1555.1,1668.9 L1542.6,1669.2 L1530.0,1669.5 L1517.4,1669.8 L1504.8,1670.2 L1492.3,1670.6 L1479.7,1671.0 L1467.1,1671.5 L1454.5,1671.9 L1441.9,1672.5 L1429.4,1673.0 Z" fill="#004b92" fill-opacity="0.4"/>
<line x1="1429.4" y1="1464.5" x2="2435.6" y2="1687.3" stroke="#073f87" stroke-width="5.2"/>
<path d="M1429.4,1122.3 L1441.9,1128.1 L1454.5,1133.9 L1467.1,1139.6 L1479.7,1145.3 L1492.3,1151.0 L1504.8,1156.6 L1517.4,1162.2 L1530.0,1167.8 L1542.6,1173.3 L1555.1,1178.7 L1567.7,1184.2 L1580.3,1189.5 L1592.9,1194.8 L1605.5,1200.1 L1618.0,1205.3 L1630.6,1210.4 L1643.2,1215.5 L1655.8,1220.5 L1668.3,1225.5 L1680.9,1230.4 L1693.5,1235.1 L1706.1,1239.8 L1718.7,1244.5 L1731.2,1249.0 L1743.8,1253.4 L1756.4,1257.8 L1769.0,1262.0 L1781.5,1266.2 L1794.1,1270.2 L1806.7,1274.1 L1819.3,1277.9 L1831.8,1281.5 L1844.4,1285.1 L1857.0,1288.5 L1869.6,1291.7 L1882.2,1294.8 L1894.7,1297.8 L1907.3,1300.7 L1919.9,1303.4 L1932.5,1305.9 L1945.0,1308.3 L1957.6,1310.5 L1970.2,1312.6 L1982.8,1314.6 L1995.4,1316.4 L2007.9,1318.0 L2020.5,1319.5 L2033.1,1320.9 L2045.7,1322.1 L2058.2,1323.2 L2070.8,1324.1 L2083.4,1325.0 L2096.0,1325.7 L2108.6,1326.2 L2121.1,1326.7 L2133.7,1327.0 L2146.3,1327.3 L2158.9,1327.4 L2171.4,1327.4 L2184.0,1327.4 L2196.6,1327.2 L2209.2,1327.0 L2221.8,1326.6 L2234.3,1326.2 L2246.9,1325.7 L2259.5,1325.2 L2272.1,1324.6 L2284.6,1323.9 L2297.2,1323.1 L2309.8,1322.3 L2322.4,1321.4 L2335.0,1320.5 L2347.5,1319.6 L2360.1,1318.5 L2372.7,1317.5 L2385.3,1316.4 L2397.8,1315.2 L2410.4,1314.0 L2423.0,1312.8 L2435.6,1311.6 L2435.6,1734.8 L2423.0,1729.1 L2410.4,1723.5 L2397.8,1717.9 L2385.3,1712.3 L2372.7,1706.8 L2360.1,1701.3 L2347.5,1695.8 L2335.0,1690.4 L2322.4,1685.1 L2309.8,1679.8 L2297.2,1674.6 L2284.6,1669.4 L2272.1,1664.3 L2259.5,1659.2 L2246.9,1654.2 L2234.3,1649.3 L2221.8,1644.5 L2209.2,1639.7 L2196.6,1635.0 L2184.0,1630.4 L2171.4,1625.9 L2158.9,1621.5 L2146.3,1617.2 L2133.7,1613.0 L2121.1,1609.0 L2108.6,1605.0 L2096.0,1601.1 L2083.4,1597.4 L2070.8,1593.8 L2058.2,1590.3 L2045.7,1587.0 L2033.1,1583.7 L2020.5,1580.7 L2007.9,1577.8 L1995.4,1575.0 L1982.8,1572.3 L1970.2,1569.9 L1957.6,1567.5 L1945.0,1565.3 L1932.5,1563.3 L1919.9,1561.4 L1907.3,1559.7 L1894.7,1558.1 L1882.2,1556.6 L1869.6,1555.3 L1857.0,1554.2 L1844.4,1553.1 L1831.8,1552.2 L1819.3,1551.5 L1806.7,1550.8 L1794.1,1550.3 L1781.5,1549.9 L1769.0,1549.6 L1756.4,1549.4 L1743.8,1549.3 L1731.2,1549.3 L1718.7,1549.4 L1706.1,1549.6 L1693.5,1549.9 L1680.9,1550.2 L1668.3,1550.7 L1655.8,1551.2 L1643.2,1551.8 L1630.6,1552.4 L1618.0,1553.1 L1605.5,1553.9 L1592.9,1554.8 L1580.3,1555.6 L1567.7,1556.6 L1555.1,1557.6 L1542.6,1558.6 L1530.0,1559.7 L1517.4,1560.8 L1504.8,1562.0 L1492.3,1563.2 L1479.7,1564.4 L1467.1,1565.7 L1454.5,1567.0 L1441.9,1568.3 L1429.4,1569.7 Z" fill="#f00000" fill-opacity="0.4"/>
<line x1="1429.4" y1="1346.0" x2="2435.6" y2="1523.2" stroke="#e80000" stroke-width="5.2"/>
<polygon points="1429.4,1148.5 1414.9,1173.5 1443.8,1173.5" fill="#0f9a48"/>
<polygon points="1441.5,1296.5 1427.1,1321.5 1456.0,1321.5" fill="#0f9a48"/>
<polygon points="1485.5,1103.5 1471.1,1128.5 1500.0,1128.5" fill="#0f9a48"/>
<polygon points="1708.4,1624.5 1693.9,1649.5 1722.8,1649.5" fill="#961a5c"/>
<polygon points="1789.0,1519.5 1774.6,1544.5 1803.4,1544.5" fill="#961a5c"/>
<polygon points="1845.7,1492.5 1831.2,1517.5 1860.1,1517.5" fill="#961a5c"/>
<polygon points="2125.2,1604.5 2110.8,1629.5 2139.7,1629.5" fill="#0a9fee"/>
<polygon points="2156.4,1670.5 2142.0,1695.5 2170.9,1695.5" fill="#0a9fee"/>
<polygon points="2252.2,1657.5 2237.8,1682.5 2266.6,1682.5" fill="#0a9fee"/>
<polygon points="2379.3,1284.5 2364.8,1309.5 2393.7,1309.5" fill="#fff000"/>
<polygon points="2397.9,1411.5 2383.5,1436.5 2412.3,1436.5" fill="#fff000"/>
<polygon points="2435.6,1243.5 2421.1,1268.5 2450.0,1268.5" fill="#fff000"/>
<circle cx="1429.4" cy="1223.0" r="9.9" fill="#0f9a48"/>
<circle cx="1441.5" cy="1453.0" r="9.9" fill="#0f9a48"/>
<circle cx="1485.5" cy="1335.0" r="9.9" fill="#0f9a48"/>
<circle cx="1708.4" cy="1749.0" r="9.9" fill="#961a5c"/>
<circle cx="1789.0" cy="1653.0" r="9.9" fill="#961a5c"/>
<circle cx="1845.7" cy="1607.0" r="9.9" fill="#961a5c"/>
<circle cx="2125.2" cy="1890.0" r="9.9" fill="#0a9fee"/>
<circle cx="2156.4" cy="1775.0" r="9.9" fill="#0a9fee"/>
<circle cx="2252.2" cy="1759.0" r="9.9" fill="#0a9fee"/>
<circle cx="2379.3" cy="1455.0" r="9.9" fill="#fff000"/>
<circle cx="2397.9" cy="1578.0" r="9.9" fill="#fff000"/>
<circle cx="2435.6" cy="1493.0" r="9.9" fill="#fff000"/>
<line x1="1377.5" y1="1082.3" x2="2488.3" y2="1082.3" stroke="#454545" stroke-width="3.5"/>
<line x1="2486.6" y1="1080.5" x2="2486.6" y2="1930.8" stroke="#454545" stroke-width="3.5"/>
<line x1="1377.5" y1="1929.0" x2="2488.3" y2="1929.0" stroke="#454545" stroke-width="3.5"/>
<line x1="1379.2" y1="1080.5" x2="1379.2" y2="1930.8" stroke="#454545" stroke-width="3.5"/>
<text x="1367.6" y="1226.0" font-size="37" font-weight="bold" font-style="normal" text-anchor="end">0.32</text>
<text x="1367.6" y="1404.7" font-size="37" font-weight="bold" font-style="normal" text-anchor="end">0.30</text>
<text x="1367.6" y="1584.4" font-size="37" font-weight="bold" font-style="normal" text-anchor="end">0.28</text>
<text x="1367.6" y="1763.1" font-size="37" font-weight="bold" font-style="normal" text-anchor="end">0.25</text>
<text x="1647.2" y="1965.0" font-size="37" font-weight="bold" font-style="normal" text-anchor="middle">16</text>
<text x="1931.6" y="1965.0" font-size="37" font-weight="bold" font-style="normal" text-anchor="middle">20</text>
<text x="2216.0" y="1965.0" font-size="37" font-weight="bold" font-style="normal" text-anchor="middle">24</text>
<path d="M1372.2,1214.5 H1379.2 M1372.2,1393.2 H1379.2 M1372.2,1572.9 H1379.2 M1372.2,1751.6 H1379.2 M1372.2,1929 H1379.2 M1650.7,1929 V1936 M1935.1,1929 V1936 M2219.5,1929 V1936 M1379.2,1929 V1936" stroke="#4a4a4a" stroke-width="2.2" fill="none"/>
<text transform="translate(1285.7,1681.5) rotate(-90)" x="0" y="0" font-size="34" font-weight="bold" textLength="392.2" lengthAdjust="spacingAndGlyphs">Root tissue density (g . cm<tspan font-size="19" dy="-11.1">-3</tspan><tspan dy="11.1">)</tspan></text>
<text x="1877.5" y="1902.5" font-size="34" font-weight="normal" font-style="normal" text-anchor="start">(D)</text>
<text x="2028.0" y="1189.7" font-size="38" font-weight="normal" font-style="italic" text-anchor="start">R</text>
<text x="2055.0" y="1174.3" font-size="16" font-weight="normal" font-style="normal" text-anchor="start">2</text>
<text x="2052.5" y="1191.3" font-size="16" font-weight="normal" font-style="italic" text-anchor="start">1</text>
<text x="2064.9" y="1188.8" font-size="34" font-weight="normal" font-style="normal" text-anchor="start" textLength="21.8" lengthAdjust="spacingAndGlyphs">=</text>
<text x="2091.0" y="1186.4" font-size="32" font-weight="normal" font-style="normal" text-anchor="start" textLength="100.0" lengthAdjust="spacingAndGlyphs">0.1849,</text>
<text x="2195.5" y="1190.0" font-size="38" font-weight="normal" font-style="italic" text-anchor="start">P</text>
<text x="2214.5" y="1193.0" font-size="16" font-weight="normal" font-style="italic" text-anchor="start">1</text>
<text x="2224.9" y="1188.8" font-size="34" font-weight="normal" font-style="normal" text-anchor="start" textLength="23.9" lengthAdjust="spacingAndGlyphs">=</text>
<text x="2251.5" y="1186.4" font-size="32" font-weight="normal" font-style="normal" text-anchor="start" textLength="89.0" lengthAdjust="spacingAndGlyphs">0.1600</text>
<text x="2025.5" y="1223.7" font-size="38" font-weight="normal" font-style="italic" text-anchor="start">R</text>
<text x="2052.5" y="1207.5" font-size="16" font-weight="normal" font-style="normal" text-anchor="start">2</text>
<text x="2050.0" y="1225.3" font-size="16" font-weight="normal" font-style="italic" text-anchor="start">2</text>
<text x="2066.6" y="1222.8" font-size="34" font-weight="normal" font-style="normal" text-anchor="start" textLength="20.8" lengthAdjust="spacingAndGlyphs">=</text>
<text x="2091.0" y="1221.2" font-size="32" font-weight="normal" font-style="normal" text-anchor="start" textLength="100.0" lengthAdjust="spacingAndGlyphs">0.1156,</text>
<text x="2193.0" y="1224.0" font-size="38" font-weight="normal" font-style="italic" text-anchor="start">P</text>
<text x="2210.5" y="1227.0" font-size="16" font-weight="normal" font-style="italic" text-anchor="start">2</text>
<text x="2224.9" y="1222.8" font-size="34" font-weight="normal" font-style="normal" text-anchor="start" textLength="23.9" lengthAdjust="spacingAndGlyphs">=</text>
<text x="2251.5" y="1221.2" font-size="32" font-weight="normal" font-style="normal" text-anchor="start" textLength="89.0" lengthAdjust="spacingAndGlyphs">0.2900</text>
<text x="1037.7" y="2064" font-size="65" textLength="641" lengthAdjust="spacingAndGlyphs">Organic carbon (g . kg<tspan font-size="40" dy="-24">-1</tspan><tspan dy="24">)</tspan></text>
</svg>
</body></html>
